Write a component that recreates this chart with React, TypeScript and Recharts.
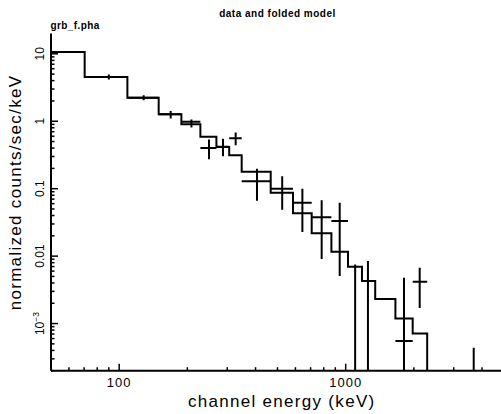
import React from "react"
import { ComposedChart, Line, XAxis, YAxis, ReferenceLine } from "recharts"

// model histogram: bin edges (keV) and folded model rate
const binLo = [50, 70.4, 108.7, 149.4, 188.2, 228.3, 268.7, 306, 347.4, 466.6, 585.3, 707.8, 864.8, 1024, 1180, 1350, 1658, 1976]
const binHi = [70.4, 108.7, 149.4, 188.2, 228.3, 268.7, 306, 347.4, 466.6, 585.3, 707.8, 864.8, 1024, 1180, 1350, 1658, 1976, 2290]
const modelRate = [10.6, 4.53, 2.23, 1.27, 0.9, 0.589, 0.416, 0.313, 0.179, 0.0873, 0.0434, 0.0219, 0.0116, 0.00694, 0.00426, 0.00231, 0.00119, 0.000711]

// data points (off-scale values sit below the plot floor)
const dataEnergy = [59, 90, 128.3, 168.8, 208.4, 249.2, 287.3, 326.8, 405.9, 524.5, 643.9, 783.4, 941, 1101, 1254, 1809, 2122, 3675]
const dataELo = [50, 70.4, 108.7, 149.4, 188.2, 228.3, 268.7, 306, 347.4, 466.6, 585.3, 707.8, 864.8, 1024, 1180, 1658, 1976, 2290]
const dataEHi = [70.4, 108.7, 149.4, 188.2, 228.3, 268.7, 306, 347.4, 466.6, 585.3, 707.8, 864.8, 1024, 1180, 1350, 1976, 2290, 5000]
const dataRate = [10.6, 4.53, 2.23, 1.27, 0.98, 0.402, 0.417, 0.56, 0.129, 0.1, 0.0616, 0.0378, 0.0333, 1e-4, 1e-4, 5.5e-4, 0.00416, 1e-4]
const dataRateLo = [10.3, 4.16, 2.05, 1.096, 0.807, 0.274, 0.303, 0.441, 0.0664, 0.0489, 0.0227, 0.00903, 0.00506, 1e-5, 1e-5, 1e-5, 0.0017, 1e-5]
const dataRateHi = [10.9, 4.93, 2.43, 1.42, 1.06, 0.536, 0.551, 0.681, 0.198, 0.153, 0.1, 0.0676, 0.0616, 0.00754, 0.00843, 0.00477, 0.00671, 4.38e-4]

const xMajor = [100, 1000]
const xMinor = [60, 70, 80, 90, 200, 300, 400, 500, 600, 700, 800, 900, 2000, 3000, 4000]
const yMajor = [0.001, 0.01, 0.1, 1, 10]
const yMajorLabels = ["10^-3", "0.01", "0.1", "1", "10"]
const yMinor = [
  2e-4, 3e-4, 4e-4, 5e-4, 6e-4, 7e-4, 8e-4, 9e-4,
  0.002, 0.003, 0.004, 0.005, 0.006, 0.007, 0.008, 0.009,
  0.02, 0.03, 0.04, 0.05, 0.06, 0.07, 0.08, 0.09,
  0.2, 0.3, 0.4, 0.5, 0.6, 0.7, 0.8, 0.9,
  2, 3, 4, 5, 6, 7, 8, 9,
]

const FONT = "'Liberation Sans', Arial, sans-serif"
const last = binLo.length - 1

const modelSteps = [
  ...binLo.map((e, i) => ({ e, rate: modelRate[i] })),
  { e: binHi[last], rate: modelRate[last] },
  { e: binHi[last], rate: 1e-5 },
]

function XTick(props: any) {
  const { x, y, payload, side } = props
  const v = payload.value
  const major = xMajor.includes(v)
  const len = major ? 7 : 3.5
  const dir = side === "top" ? 1 : -1
  return (
    <g>
      <line x1={x} x2={x} y1={y} y2={y + dir * len} stroke="#000" strokeWidth={1.5} />
      {side !== "top" && major && (
        <text x={x} y={y + 16.5} textAnchor="middle" fontFamily={FONT} fontSize={13} letterSpacing={1} fill="#000">
          {v}
        </text>
      )}
    </g>
  )
}

function YTick(props: any) {
  const { x, y, payload, side } = props
  const v = payload.value
  const idx = yMajor.indexOf(v)
  const major = idx >= 0
  const len = major ? 7 : 3.5
  const dir = side === "right" ? -1 : 1
  const label = major ? yMajorLabels[idx] : null
  return (
    <g>
      <line x1={x} x2={x + dir * len} y1={y} y2={y} stroke="#000" strokeWidth={1.5} />
      {side !== "right" && label && (
        <text transform={`translate(${x - 7},${y}) rotate(-90)`} textAnchor="middle" fontFamily={FONT} fontSize={12} fill="#000">
          {label === "10^-3" ? (
            <>
              <tspan>10</tspan>
              <tspan dy={-5} fontSize={8.5}>−3</tspan>
            </>
          ) : (
            label
          )}
        </text>
      )}
    </g>
  )
}

export default function App() {
  const xTicks = [...xMinor, ...xMajor].sort((a, b) => a - b)
  const yTicks = [...yMinor, ...yMajor].sort((a, b) => a - b)

  return (
    <div style={{ position: "absolute", left: 0, top: 0, width: 501, height: 414, overflow: "hidden", background: "#fff" }}>
      <ComposedChart width={520} height={414} data={modelSteps} margin={{ top: 33.5, right: 16, bottom: 0, left: 0 }}>
        <XAxis
          dataKey="e"
          type="number"
          scale="log"
          domain={[50, 5000]}
          allowDataOverflow
          ticks={xTicks}
          interval={0}
          height={43.3}
          tickSize={0}
          tickMargin={0}
          tickLine={false}
          axisLine={{ stroke: "#000", strokeWidth: 2 }}
          tick={(p: any) => <XTick {...p} side="bottom" />}
        />
        <XAxis
          xAxisId="top"
          orientation="top"
          dataKey="e"
          type="number"
          scale="log"
          domain={[50, 5000]}
          allowDataOverflow
          ticks={xTicks}
          interval={0}
          height={0}
          tickSize={0}
          tickMargin={0}
          tickLine={false}
          axisLine={{ stroke: "#000", strokeWidth: 2 }}
          tick={(p: any) => <XTick {...p} side="top" />}
        />
        <YAxis
          type="number"
          scale="log"
          domain={[2e-4, 20]}
          allowDataOverflow
          ticks={yTicks}
          interval={0}
          width={51}
          tickSize={0}
          tickMargin={0}
          tickLine={false}
          axisLine={{ stroke: "#000", strokeWidth: 2 }}
          tick={(p: any) => <YTick {...p} side="left" />}
        />
        <YAxis
          yAxisId="right"
          orientation="right"
          type="number"
          scale="log"
          domain={[2e-4, 20]}
          allowDataOverflow
          ticks={yTicks}
          interval={0}
          width={0}
          tickSize={0}
          tickMargin={0}
          tickLine={false}
          axisLine={{ stroke: "#000", strokeWidth: 2 }}
          tick={(p: any) => <YTick {...p} side="right" />}
        />
        <Line
          type="stepAfter"
          dataKey="rate"
          stroke="#000"
          strokeWidth={2}
          dot={false}
          activeDot={false}
          isAnimationActive={false}
        />
        {dataEnergy.map((e, i) => (
          <ReferenceLine
            key={`h${i}`}
            ifOverflow="hidden"
            segment={[{ x: dataELo[i], y: dataRate[i] }, { x: dataEHi[i], y: dataRate[i] }]}
            stroke="#000"
            strokeWidth={2}
          />
        ))}
        {dataEnergy.map((e, i) => (
          <ReferenceLine
            key={`v${i}`}
            ifOverflow="hidden"
            segment={[{ x: e, y: dataRateLo[i] }, { x: e, y: dataRateHi[i] }]}
            stroke="#000"
            strokeWidth={2}
          />
        ))}
      </ComposedChart>
      <svg width={501} height={414} style={{ position: "absolute", left: 0, top: 0, pointerEvents: "none" }}>
        <text x={277.5} y={17} textAnchor="middle" fontFamily={FONT} fontSize={10} fontWeight="bold" letterSpacing={0.5} fill="#000">
          data and folded model
        </text>
        <text x={50.5} y={28.5} fontFamily={FONT} fontSize={10} fontWeight="bold" letterSpacing={0.4} fill="#000">
          grb_f.pha
        </text>
        <text x={281.7} y={406.5} textAnchor="middle" fontFamily={FONT} fontSize={17} letterSpacing={1.3} fill="#000">
          channel energy (keV)
        </text>
        <text transform="translate(21,192.5) rotate(-90)" textAnchor="middle" fontFamily={FONT} fontSize={17} letterSpacing={1.3} fill="#000">
          normalized counts/sec/keV
        </text>
      </svg>
    </div>
  )
}
